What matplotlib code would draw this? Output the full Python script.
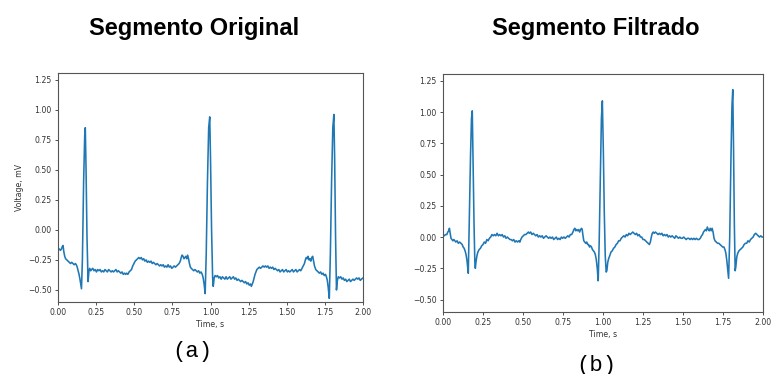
import matplotlib
matplotlib.use("Agg")
import matplotlib.pyplot as plt

# ---- data ----
orig_time = [0.000,0.008,0.016,0.022,0.028,0.033,0.038,0.044,0.050,0.058,0.066,0.074,0.082,0.090,0.098,0.106,0.114,0.120,0.126,0.132,0.138,0.144,0.150,0.154,0.160,0.168,0.175,0.179,0.184,0.190,0.197,0.203,0.208,0.214,0.220,0.228,0.236,0.244,0.252,0.260,0.268,0.276,0.284,0.292,0.300,0.308,0.316,0.324,0.332,0.340,0.348,0.356,0.364,0.372,0.380,0.388,0.396,0.404,0.412,0.420,0.428,0.436,0.444,0.450,0.458,0.466,0.474,0.482,0.490,0.498,0.506,0.514,0.522,0.530,0.538,0.546,0.554,0.562,0.570,0.578,0.586,0.594,0.602,0.610,0.618,0.626,0.634,0.642,0.650,0.658,0.666,0.674,0.682,0.690,0.698,0.706,0.714,0.722,0.730,0.738,0.746,0.754,0.762,0.770,0.778,0.786,0.794,0.802,0.808,0.814,0.820,0.826,0.832,0.838,0.844,0.850,0.856,0.862,0.868,0.874,0.882,0.890,0.898,0.906,0.914,0.922,0.930,0.938,0.946,0.952,0.958,0.965,0.972,0.980,0.988,0.995,1.000,1.007,1.014,1.018,1.024,1.030,1.038,1.046,1.054,1.062,1.070,1.078,1.086,1.094,1.102,1.110,1.118,1.126,1.134,1.142,1.150,1.158,1.166,1.174,1.182,1.190,1.198,1.206,1.214,1.222,1.230,1.238,1.246,1.254,1.262,1.268,1.274,1.280,1.286,1.292,1.298,1.304,1.312,1.320,1.328,1.336,1.344,1.352,1.360,1.368,1.376,1.384,1.392,1.400,1.408,1.416,1.424,1.432,1.440,1.448,1.456,1.464,1.472,1.480,1.488,1.496,1.504,1.512,1.520,1.528,1.536,1.544,1.552,1.560,1.568,1.576,1.584,1.592,1.600,1.608,1.616,1.622,1.628,1.634,1.640,1.646,1.652,1.658,1.664,1.670,1.676,1.682,1.690,1.698,1.706,1.714,1.722,1.730,1.738,1.746,1.754,1.760,1.766,1.772,1.779,1.786,1.794,1.802,1.809,1.814,1.820,1.826,1.832,1.838,1.846,1.854,1.862,1.870,1.878,1.886,1.894,1.902,1.910,1.918,1.926,1.934,1.942,1.950,1.958,1.966,1.974,1.982,1.990,2.000]
orig_voltage = [-0.15,-0.16,-0.17,-0.16,-0.14,-0.13,-0.18,-0.22,-0.24,-0.25,-0.26,-0.27,-0.28,-0.27,-0.28,-0.29,-0.28,-0.29,-0.31,-0.34,-0.37,-0.41,-0.46,-0.49,-0.25,0.40,0.78,0.85,0.50,-0.05,-0.43,-0.34,-0.32,-0.34,-0.33,-0.32,-0.34,-0.33,-0.35,-0.33,-0.34,-0.33,-0.35,-0.34,-0.35,-0.33,-0.34,-0.35,-0.33,-0.34,-0.35,-0.34,-0.35,-0.34,-0.33,-0.35,-0.34,-0.35,-0.36,-0.35,-0.37,-0.36,-0.37,-0.36,-0.37,-0.35,-0.34,-0.33,-0.30,-0.28,-0.26,-0.25,-0.24,-0.23,-0.24,-0.23,-0.25,-0.24,-0.26,-0.25,-0.27,-0.26,-0.27,-0.26,-0.28,-0.27,-0.28,-0.29,-0.28,-0.29,-0.30,-0.29,-0.30,-0.29,-0.31,-0.30,-0.31,-0.29,-0.31,-0.30,-0.32,-0.31,-0.30,-0.31,-0.30,-0.29,-0.28,-0.26,-0.23,-0.21,-0.22,-0.24,-0.23,-0.22,-0.24,-0.21,-0.24,-0.28,-0.31,-0.32,-0.33,-0.34,-0.33,-0.34,-0.35,-0.34,-0.36,-0.35,-0.37,-0.40,-0.45,-0.53,-0.20,0.40,0.85,0.94,0.60,0.00,-0.40,-0.47,-0.40,-0.38,-0.39,-0.38,-0.40,-0.39,-0.41,-0.39,-0.40,-0.41,-0.39,-0.41,-0.40,-0.39,-0.41,-0.40,-0.39,-0.41,-0.40,-0.42,-0.41,-0.42,-0.43,-0.42,-0.43,-0.44,-0.43,-0.45,-0.44,-0.46,-0.45,-0.47,-0.45,-0.43,-0.40,-0.37,-0.35,-0.33,-0.32,-0.31,-0.32,-0.31,-0.30,-0.31,-0.30,-0.31,-0.30,-0.32,-0.31,-0.32,-0.31,-0.33,-0.32,-0.33,-0.34,-0.33,-0.35,-0.34,-0.33,-0.35,-0.34,-0.33,-0.35,-0.34,-0.35,-0.34,-0.33,-0.35,-0.34,-0.33,-0.35,-0.34,-0.33,-0.34,-0.32,-0.30,-0.28,-0.25,-0.23,-0.24,-0.22,-0.25,-0.24,-0.26,-0.23,-0.22,-0.26,-0.30,-0.33,-0.34,-0.35,-0.36,-0.35,-0.37,-0.36,-0.38,-0.37,-0.39,-0.42,-0.48,-0.57,-0.20,0.40,0.85,0.96,0.60,-0.05,-0.50,-0.42,-0.39,-0.40,-0.39,-0.41,-0.40,-0.42,-0.41,-0.43,-0.42,-0.41,-0.43,-0.42,-0.41,-0.42,-0.41,-0.40,-0.41,-0.40,-0.42,-0.41,-0.40]

filt_time = [0.000,0.008,0.016,0.024,0.030,0.036,0.040,0.045,0.050,0.056,0.062,0.068,0.074,0.080,0.088,0.096,0.104,0.112,0.120,0.126,0.132,0.138,0.144,0.150,0.155,0.158,0.164,0.172,0.178,0.183,0.188,0.194,0.199,0.202,0.206,0.212,0.218,0.226,0.234,0.242,0.250,0.258,0.266,0.274,0.282,0.290,0.298,0.306,0.314,0.322,0.330,0.338,0.346,0.354,0.362,0.370,0.378,0.386,0.394,0.402,0.410,0.418,0.426,0.434,0.442,0.450,0.458,0.466,0.474,0.480,0.486,0.494,0.502,0.510,0.518,0.526,0.534,0.540,0.548,0.556,0.564,0.572,0.580,0.588,0.596,0.604,0.612,0.620,0.628,0.636,0.644,0.652,0.660,0.668,0.676,0.684,0.692,0.700,0.708,0.716,0.724,0.732,0.740,0.748,0.756,0.764,0.772,0.780,0.788,0.796,0.804,0.812,0.818,0.824,0.830,0.836,0.842,0.848,0.854,0.860,0.866,0.870,0.875,0.880,0.886,0.892,0.898,0.904,0.910,0.916,0.922,0.928,0.934,0.940,0.946,0.952,0.958,0.964,0.970,0.976,0.984,0.990,0.996,1.002,1.008,1.014,1.020,1.024,1.030,1.036,1.042,1.050,1.058,1.066,1.074,1.082,1.090,1.098,1.106,1.114,1.122,1.130,1.138,1.146,1.154,1.162,1.170,1.178,1.186,1.194,1.202,1.210,1.218,1.226,1.234,1.242,1.250,1.258,1.266,1.274,1.282,1.290,1.296,1.302,1.308,1.314,1.320,1.328,1.336,1.344,1.352,1.360,1.368,1.376,1.384,1.392,1.400,1.408,1.416,1.424,1.432,1.440,1.448,1.456,1.464,1.472,1.480,1.488,1.496,1.504,1.512,1.520,1.528,1.536,1.544,1.552,1.560,1.568,1.576,1.584,1.592,1.600,1.608,1.616,1.622,1.628,1.634,1.640,1.646,1.652,1.658,1.664,1.670,1.676,1.682,1.688,1.694,1.700,1.708,1.716,1.724,1.732,1.740,1.748,1.756,1.762,1.768,1.774,1.780,1.785,1.792,1.800,1.806,1.811,1.816,1.821,1.826,1.830,1.836,1.842,1.850,1.858,1.866,1.874,1.882,1.890,1.898,1.906,1.914,1.922,1.930,1.938,1.946,1.954,1.962,1.970,1.978,1.986,1.994,2.000]
filt_voltage = [0.02,0.01,0.02,0.02,0.04,0.05,0.07,0.03,-0.01,-0.02,-0.03,-0.02,-0.03,-0.04,-0.03,-0.05,-0.04,-0.05,-0.06,-0.08,-0.09,-0.11,-0.14,-0.19,-0.25,-0.29,0.10,0.65,0.95,1.01,0.60,0.10,-0.20,-0.25,-0.20,-0.15,-0.12,-0.10,-0.09,-0.07,-0.06,-0.04,-0.05,-0.02,-0.03,-0.01,0.00,0.02,0.01,0.02,0.01,0.03,0.01,0.02,0.01,0.02,0.00,0.01,-0.01,0.00,-0.01,-0.02,-0.02,-0.03,-0.02,-0.04,-0.03,-0.04,-0.03,-0.04,-0.02,0.00,0.01,0.02,0.02,0.03,0.04,0.03,0.04,0.02,0.03,0.02,0.01,0.02,0.00,0.01,0.00,0.01,-0.01,0.00,0.01,0.00,-0.01,0.00,-0.01,0.00,-0.02,-0.01,0.00,-0.02,-0.01,-0.02,0.00,-0.01,0.00,-0.01,0.00,0.01,0.00,0.02,0.02,0.04,0.06,0.07,0.05,0.06,0.05,0.06,0.04,0.06,0.07,0.06,0.01,-0.03,-0.04,-0.05,-0.04,-0.06,-0.06,-0.08,-0.07,-0.08,-0.10,-0.11,-0.12,-0.14,-0.18,-0.25,-0.35,-0.05,0.55,0.95,1.09,0.70,0.20,-0.15,-0.28,-0.27,-0.20,-0.17,-0.15,-0.12,-0.11,-0.09,-0.08,-0.06,-0.05,-0.03,-0.03,-0.01,0.00,0.01,0.00,0.02,0.01,0.03,0.02,0.03,0.04,0.03,0.02,0.03,0.01,0.02,0.00,0.00,-0.02,-0.02,-0.03,-0.04,-0.05,-0.06,-0.04,0.00,0.03,0.04,0.03,0.04,0.03,0.02,0.03,0.02,0.03,0.01,0.02,0.01,0.02,0.00,0.01,0.00,0.01,0.00,-0.01,0.01,0.00,-0.01,0.00,-0.01,-0.01,0.00,-0.01,-0.02,-0.01,-0.01,-0.02,-0.01,-0.02,-0.01,-0.02,-0.01,-0.02,-0.02,-0.01,0.01,0.02,0.04,0.05,0.06,0.05,0.08,0.06,0.05,0.07,0.05,0.07,0.04,-0.01,-0.03,-0.04,-0.05,-0.05,-0.06,-0.07,-0.08,-0.08,-0.10,-0.13,-0.19,-0.27,-0.33,0.00,0.65,1.05,1.18,0.70,0.10,-0.27,-0.24,-0.16,-0.13,-0.11,-0.10,-0.09,-0.08,-0.06,-0.05,-0.05,-0.03,-0.04,-0.02,-0.01,0.00,0.02,0.03,0.02,0.01,0.00,0.01,0.00,0.00]

x_ticks = [0.00, 0.25, 0.50, 0.75, 1.00, 1.25, 1.50, 1.75, 2.00]
y_ticks = [-0.50, -0.25, 0.00, 0.25, 0.50, 0.75, 1.00, 1.25]
titles = ["Segmento Original", "Segmento Filtrado"]
captions = ["(a)", "(b)"]

W, H = 771, 374
fig = plt.figure(figsize=(W / 100, H / 100), dpi=100)
fig.patch.set_facecolor("white")

def px_axes(l, t, r, b):
    return fig.add_axes([l / W, 1 - b / H, (r - l) / W, (b - t) / H])

ax1 = px_axes(58, 73, 363, 302)
ax2 = px_axes(443, 74, 763, 312)

line_color = "#1f77b4"
for ax, tt, vv in [(ax1, orig_time, orig_voltage), (ax2, filt_time, filt_voltage)]:
    ax.plot(tt, vv, color=line_color, lw=1.15)
    ax.set_xlim(0, 2)
    ax.set_ylim(-0.6, 1.305)
    ax.set_xticks(x_ticks)
    ax.set_yticks(y_ticks)
    ax.set_xticklabels([f"{v:.2f}" for v in x_ticks])
    ax.set_yticklabels([f"{v:.2f}".replace("-", "\u2212") for v in y_ticks])
    ax.tick_params(labelsize=5.6, length=2.5, width=0.6, pad=2, colors="#333333")
    for s in ax.spines.values():
        s.set_color("#555555")
        s.set_linewidth(0.8)

ax1.set_xlabel("Time, s", fontsize=5.6, labelpad=2, color="#333333")
ax1.set_ylabel("Voltage, mV", fontsize=5.6, labelpad=3, color="#333333")
ax2.set_xlabel("Time, s", fontsize=5.6, labelpad=2, color="#333333")

fig.text(194 / W, 1 - 28 / H, titles[0], ha="center", va="center",
         fontsize=17, fontweight="bold", family="Liberation Sans")
fig.text(596 / W, 1 - 28 / H, titles[1], ha="center", va="center",
         fontsize=17, fontweight="bold", family="Liberation Sans")
fig.text(192 / W, 1 - 352 / H, captions[0], ha="center", va="center",
         fontsize=16, family="Liberation Mono")
fig.text(596 / W, 1 - 365 / H, captions[1], ha="center", va="center",
         fontsize=16, family="Liberation Mono")

fig.savefig("out.png", dpi=100)
